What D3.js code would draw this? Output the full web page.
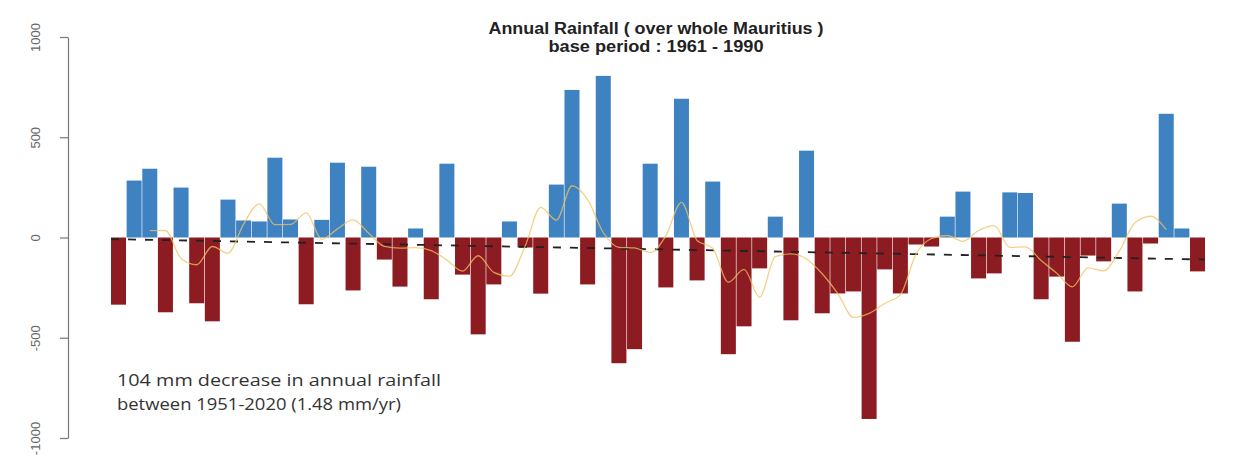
<!DOCTYPE html>
<html><head><meta charset="utf-8">
<script src="https://cdn.jsdelivr.net/npm/d3@7/dist/d3.min.js"></script>
<style>body{margin:0;background:#fff}</style>
</head><body><svg id="c" width="1241" height="460"></svg>
<script>
const years = [1951,1952,1953,1954,1955,1956,1957,1958,1959,1960,
  1961,1962,1963,1964,1965,1966,1967,1968,1969,1970,
  1971,1972,1973,1974,1975,1976,1977,1978,1979,1980,
  1981,1982,1983,1984,1985,1986,1987,1988,1989,1990,
  1991,1992,1993,1994,1995,1996,1997,1998,1999,2000,
  2001,2002,2003,2004,2005,2006,2007,2008,2009,2010,
  2011,2012,2013,2014,2015,2016,2017,2018,2019,2020];
const anomalies = [-335,284,343,-373,249,-328,-418,189,85,80,
  398,90,-333,88,373,-264,353,-110,-245,45,
  -308,368,-185,-483,-234,80,-50,-280,264,736,
  -234,806,-627,-557,368,-249,692,-214,279,-582,
  -443,-154,104,-413,433,-378,-279,-269,-905,-159,
  -279,-35,-45,104,229,-204,-179,225,222,-308,
  -195,-520,-90,-119,169,-269,-30,617,45,-169];
const smoothYears = [1953,1954,1955,1956,1957,1958,1959,1960,1961,1962,
  1963,1964,1965,1966,1967,1968,1969,1970,1971,1972,
  1973,1974,1975,1976,1977,1978,1979,1980,1981,1982,
  1983,1984,1985,1986,1987,1988,1989,1990,1991,1992,
  1993,1994,1995,1996,1997,1998,1999,2000,2001,2002,
  2003,2004,2005,2006,2007,2008,2009,2010,2011,2012,
  2013,2014,2015,2016,2017,2018];
const smoothValues = [34,35,-105,-136,-45,-78,67,168,64,65,
  123,-9,43,88,21,-44,-53,-50,-65,-113,
  -168,-91,-174,-193,-44,150,87,258,189,25,
  -49,-52,-75,8,175,-15,-54,-223,-159,-298,
  -95,-82,-107,-181,-280,-398,-378,-329,-285,-83,
  -5,10,-19,35,59,-49,-47,-115,-178,-246,
  -151,-166,-68,74,106,39];
const trendYears = [1951, 2020];
const trendValues = [-8, -110];
const yTicks = [-1000, -500, 0, 500, 1000];
const yTickLabels = ["-1000", "-500", "0", "500", "1000"];
const titleLines = ["Annual Rainfall ( over whole Mauritius )", "base period : 1961 - 1990"];
const noteLines = ["104 mm decrease in annual rainfall", "between 1951-2020 (1.48 mm/yr)"];

const svg = d3.select("#c");
svg.append("rect").attr("width",1241).attr("height",460).attr("fill","#fff");

const x = d3.scaleBand().domain(years).range([111, 1205]).paddingInner(0.04).paddingOuter(0);
const y = d3.scaleLinear().domain([-1000, 1000]).range([438, 37]);

// bars
svg.append("g").selectAll("rect").data(years).join("rect")
  .attr("x", d => x(d))
  .attr("width", x.bandwidth())
  .attr("y", (d,i) => y(Math.max(0, anomalies[i])))
  .attr("height", (d,i) => Math.abs(y(anomalies[i]) - y(0)))
  .attr("fill", (d,i) => anomalies[i] >= 0 ? "#3f82c2" : "#8c1b22");

// trend (dashed)
svg.append("path")
  .datum(trendYears.map((yr,i)=>[yr, trendValues[i]]))
  .attr("d", d3.line().x(d => x(d[0]) + (d[0]===trendYears[0] ? 0 : x.bandwidth())).y(d => y(d[1])))
  .attr("fill","none").attr("stroke","#222").attr("stroke-width",1.8)
  .attr("stroke-dasharray","8,9");

// smoothed line
svg.append("path")
  .datum(smoothYears.map((yr,i)=>[yr, smoothValues[i]]))
  .attr("d", d3.line().curve(d3.curveMonotoneX).x(d => x(d[0]) + x.bandwidth()/2).y(d => y(d[1])))
  .attr("fill","none").attr("stroke","#f2c260").attr("stroke-width",1.3).attr("opacity",0.75);

// y axis
const ax = svg.append("g").attr("transform","translate(68,0)")
  .call(d3.axisLeft(y).tickValues(yTicks).tickFormat((d,i)=>yTickLabels[i]).tickSize(8).tickSizeOuter(0));
ax.select(".domain").attr("stroke","#777").attr("stroke-width",1.2);
ax.selectAll(".tick line").attr("stroke","#777").attr("stroke-width",1.2);
ax.selectAll(".tick text")
  .attr("x",0).attr("dy","0.35em")
  .attr("text-anchor","middle")
  .attr("transform","translate(-33,0) rotate(-90)")
  .attr("fill","#666")
  .style("font-family","'Liberation Sans', Arial, sans-serif")
  .style("font-size","13px");

// title
svg.append("g").selectAll("text").data(titleLines).join("text")
  .attr("x", 656).attr("y", (d,i)=> i===0 ? 34 : 52)
  .attr("text-anchor","middle")
  .attr("textLength",(d,i)=> i===0 ? 335 : 215)
  .attr("lengthAdjust","spacingAndGlyphs")
  .style("font-family","'Liberation Sans', Arial, sans-serif")
  .style("font-weight","bold").style("font-size","16px").attr("fill","#222")
  .text(d=>d);

// note
svg.append("g").selectAll("text").data(noteLines).join("text")
  .attr("x", 117).attr("y", (d,i)=> i===0 ? 386 : 410)
  .attr("textLength",(d,i)=> i===0 ? 324 : 284)
  .attr("lengthAdjust","spacingAndGlyphs")
  .style("font-family","'Open Sans', sans-serif")
  .style("font-size","17px").attr("fill","#333")
  .text(d=>d);
</script></body></html>
